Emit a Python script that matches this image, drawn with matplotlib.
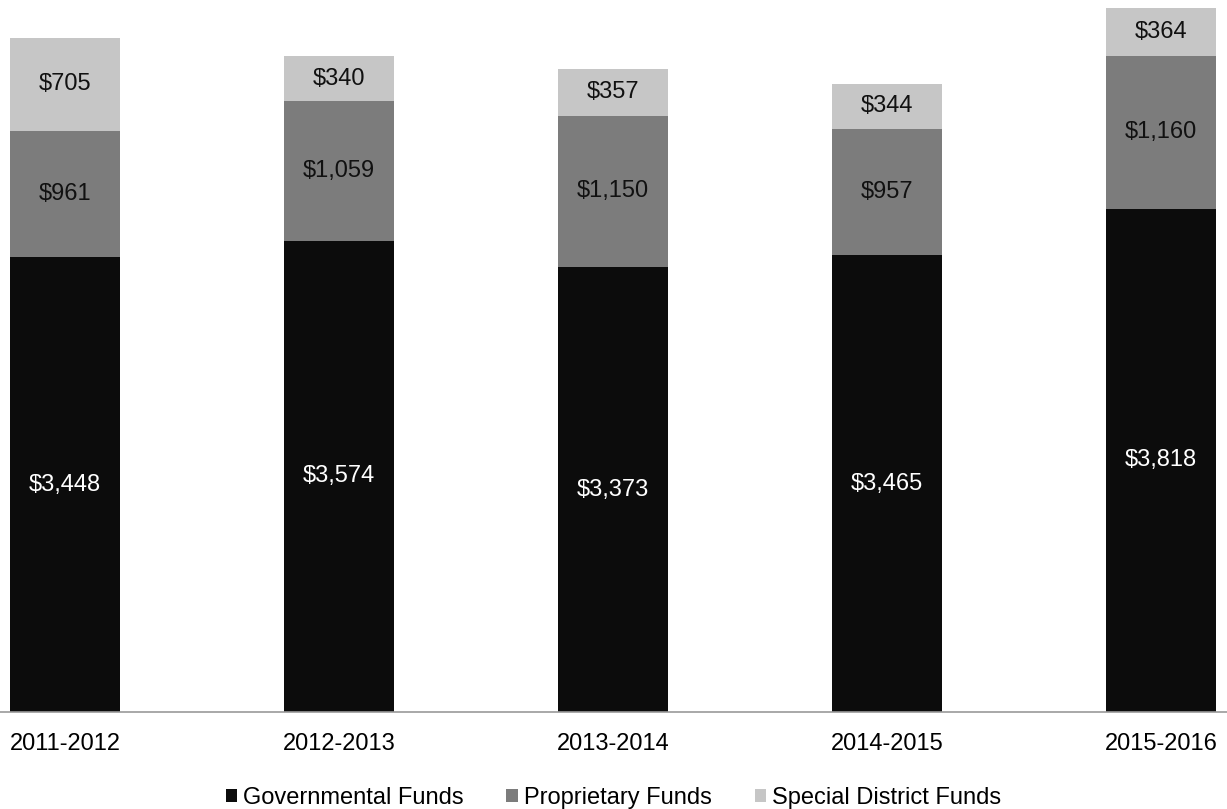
import numpy as np
import matplotlib.pyplot as plt

plt.rcParams['font.family'] = ['Liberation Sans', 'DejaVu Sans']

years = ['2011-2012', '2012-2013', '2013-2014', '2014-2015', '2015-2016']
governmental = [3448, 3574, 3373, 3465, 3818]
proprietary = [961, 1059, 1150, 957, 1160]
special = [705, 340, 357, 344, 364]

series = [
    ('Governmental Funds', governmental, '#0c0c0c', 'white'),
    ('Proprietary Funds', proprietary, '#7c7c7c', '#111111'),
    ('Special District Funds', special, '#c6c6c6', '#111111'),
]

fig = plt.figure(figsize=(12.27, 8.09), dpi=100)
ax = fig.add_axes([0, 0.12, 1, 0.88])

x = np.arange(len(years))
bottom = np.zeros(len(years))
for name, vals, color, txt_color in series:
    vals = np.array(vals, dtype=float)
    ax.bar(x, vals, 0.4, bottom=bottom, color=color, label=name)
    for xi, b, v in zip(x, bottom, vals):
        ax.text(xi, b + v / 2, f'${v:,.0f}', ha='center', va='center',
                fontsize=17, color=txt_color)
    bottom += vals

ax.set_xlim(-0.237, 4.24)
ax.set_ylim(0, 5400)
ax.set_yticks([])
ax.set_xticks(x)
ax.set_xticklabels(years, fontsize=17)
ax.tick_params(axis='x', length=0, pad=15)
for s in ['top', 'right', 'left']:
    ax.spines[s].set_visible(False)
ax.spines['bottom'].set_color('#999999')
ax.spines['bottom'].set_linewidth(1.2)

ax.legend(loc='center', bbox_to_anchor=(0.5, -0.121), ncol=3,
          frameon=False, fontsize=17, handlelength=0.5, handleheight=0.5,
          handletextpad=0.25, columnspacing=1.8, borderpad=0)

fig.savefig('out.png', dpi=100)
